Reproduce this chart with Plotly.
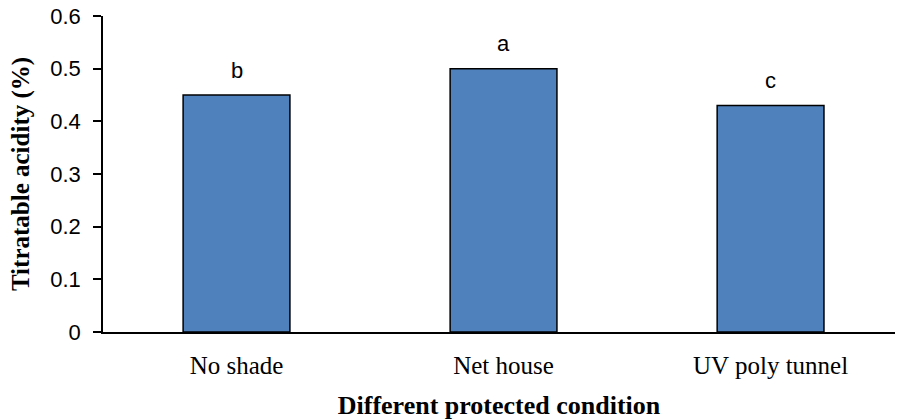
import plotly.graph_objects as go

categories = ["No shade", "Net house", "UV poly tunnel"]
values = [0.45, 0.50, 0.43]
letters = ["b", "a", "c"]
y_ticks = [0, 0.1, 0.2, 0.3, 0.4, 0.5, 0.6]
y_tick_labels = ["0", "0.1", "0.2", "0.3", "0.4", "0.5", "0.6"]

fig = go.Figure()
fig.add_trace(go.Bar(
    x=list(range(len(categories))), y=values, width=0.4,
    marker=dict(color="#4F81BD", line=dict(color="black", width=1.5)),
))
for i, (v, l) in enumerate(zip(values, letters)):
    fig.add_annotation(x=i, y=v, text=l, showarrow=False, yshift=25,
                       font=dict(family="Liberation Sans, Arial", size=22, color="black"))

fig.update_layout(
    width=897, height=420, plot_bgcolor="white", paper_bgcolor="white",
    margin=dict(l=103, r=2, t=16, b=88), showlegend=False,
    xaxis=dict(range=[-0.5, 2.466], tickvals=list(range(len(categories))), ticktext=categories,
               showline=True, linecolor="black", linewidth=1.5, ticks="", showgrid=False,
               ticklabelstandoff=10,
               tickfont=dict(family="Liberation Serif, Times New Roman", size=25, color="black"),
               title=dict(text="<b>Different protected condition</b>", standoff=18,
                          font=dict(family="Liberation Serif, Times New Roman", size=26, color="black"))),
    yaxis=dict(range=[0, 0.6], tickvals=y_ticks, ticktext=y_tick_labels,
               showline=True, linecolor="black", linewidth=1.5, ticks="outside", ticklen=8,
               tickcolor="black", tickwidth=1.5, showgrid=False, zeroline=False,
               ticklabelstandoff=8,
               tickfont=dict(family="Liberation Sans, Arial", size=22, color="black"),
               title=dict(text="<b>Titratable acidity (%)</b>", standoff=14,
                          font=dict(family="Liberation Serif, Times New Roman", size=25, color="black"))),
)
fig.write_html("out.html")
